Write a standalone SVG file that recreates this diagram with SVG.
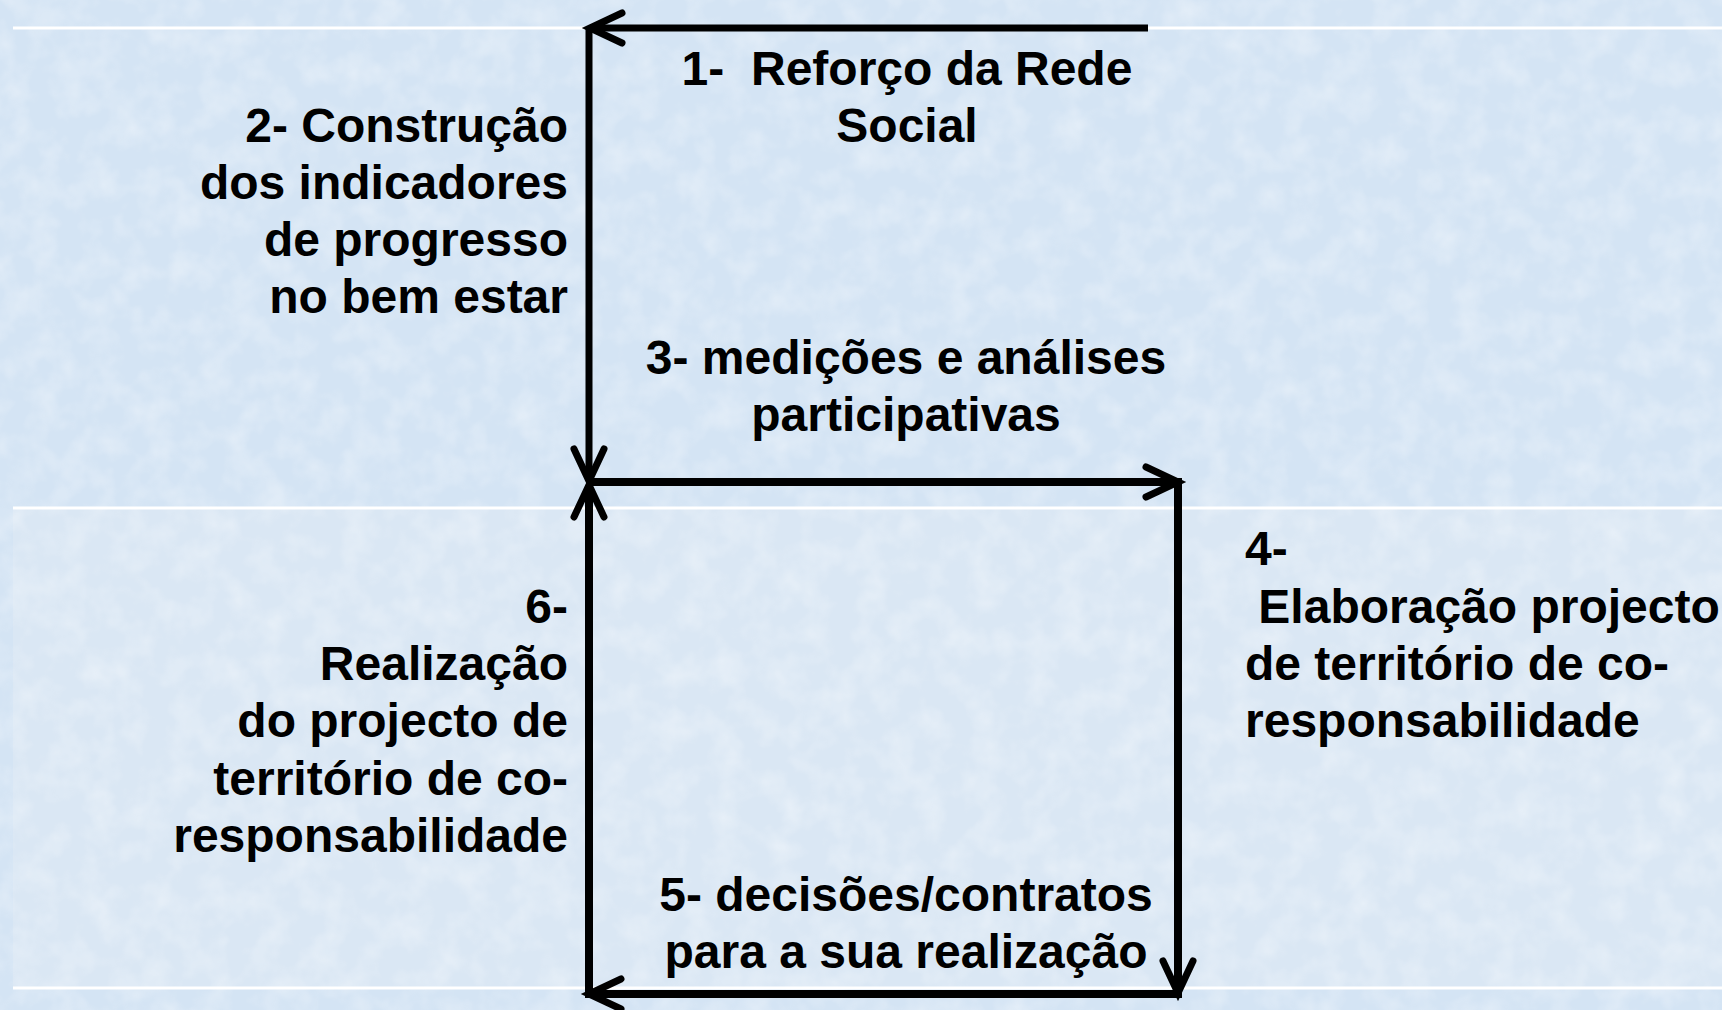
<svg xmlns="http://www.w3.org/2000/svg" width="1722" height="1010" viewBox="0 0 1722 1010">
  <style>
    .lbl { font-family: "Liberation Sans", Arial, sans-serif; font-weight: bold; font-size: 48px; fill: #000; }
    .r { text-anchor: end; }
    .c { text-anchor: middle; }
    .l { text-anchor: start; }
    .con { fill: none; stroke: #000; stroke-linecap: butt; }
    .rule { stroke: #ffffff; stroke-width: 3; }
  </style>
  <defs>
    <marker id="chev" markerUnits="userSpaceOnUse" viewBox="-40 -22 48 44" refX="0" refY="0" markerWidth="48" markerHeight="44" orient="auto" overflow="visible">
      <path d="M-32,-15 L0,0 L-32,15" fill="none" stroke="#000" stroke-width="7" stroke-linecap="round" stroke-linejoin="miter"/>
    </marker>
    <filter id="mottle" x="0" y="0" width="100%" height="100%">
      <feTurbulence type="fractalNoise" baseFrequency="0.035" numOctaves="3" seed="7" result="n"/>
      <feColorMatrix in="n" type="matrix" values="0 0 0 0 1  0 0 0 0 1  0 0 0 0 1  0 0 0 1.2 -0.45"/>
    </filter>
  </defs>

  <g id="background">
    <rect x="0" y="0" width="1722" height="1010" fill="#d4e4f4"/>
    <rect x="13" y="508" width="1709" height="480" fill="#dae7f4"/>
    <rect x="0" y="0" width="1722" height="1010" filter="url(#mottle)" opacity="0.5"/>
    <line class="rule" x1="13" y1="28" x2="1722" y2="28"/>
    <line class="rule" x1="13" y1="508" x2="1722" y2="508"/>
    <line class="rule" x1="13" y1="988" x2="1722" y2="988"/>
  </g>

  <g id="connectors">
    <path class="con" stroke-width="7" d="M1148,28 L590,28" marker-end="url(#chev)"/>
    <path class="con" stroke-width="7" d="M589,28 L589,481" marker-end="url(#chev)"/>
    <path class="con" stroke-width="8" d="M589,482 L1178,482" marker-end="url(#chev)"/>
    <path class="con" stroke-width="8" d="M1178,478 L1178,993" marker-end="url(#chev)"/>
    <path class="con" stroke-width="8" d="M1182,994 L589,994" marker-end="url(#chev)"/>
    <path class="con" stroke-width="8" d="M589,998 L589,485" marker-end="url(#chev)"/>
  </g>

  <g id="node1">
    <text class="lbl c" xml:space="preserve" x="907" y="85">1-  Reforço da Rede</text>
    <text class="lbl c" x="907" y="142">Social</text>
  </g>

  <g id="node2">
    <text class="lbl r" x="568" y="142">2- Construção</text>
    <text class="lbl r" x="568" y="199">dos indicadores</text>
    <text class="lbl r" x="568" y="256">de progresso</text>
    <text class="lbl r" x="568" y="313">no bem estar</text>
  </g>

  <g id="node3">
    <text class="lbl c" x="906" y="374">3- medições e análises</text>
    <text class="lbl c" x="906" y="431">participativas</text>
  </g>

  <g id="node4">
    <text class="lbl l" x="1245" y="565">4-</text>
    <text class="lbl l" xml:space="preserve" x="1245" y="623"> Elaboração projecto</text>
    <text class="lbl l" x="1245" y="680">de território de co-</text>
    <text class="lbl l" x="1245" y="737">responsabilidade</text>
  </g>

  <g id="node5">
    <text class="lbl c" x="906" y="911">5- decisões/contratos</text>
    <text class="lbl c" x="906" y="968">para a sua realização</text>
  </g>

  <g id="node6">
    <text class="lbl r" x="568" y="623">6-</text>
    <text class="lbl r" x="568" y="680">Realização</text>
    <text class="lbl r" x="568" y="737">do projecto de</text>
    <text class="lbl r" x="568" y="795">território de co-</text>
    <text class="lbl r" x="568" y="852">responsabilidade</text>
  </g>
</svg>
